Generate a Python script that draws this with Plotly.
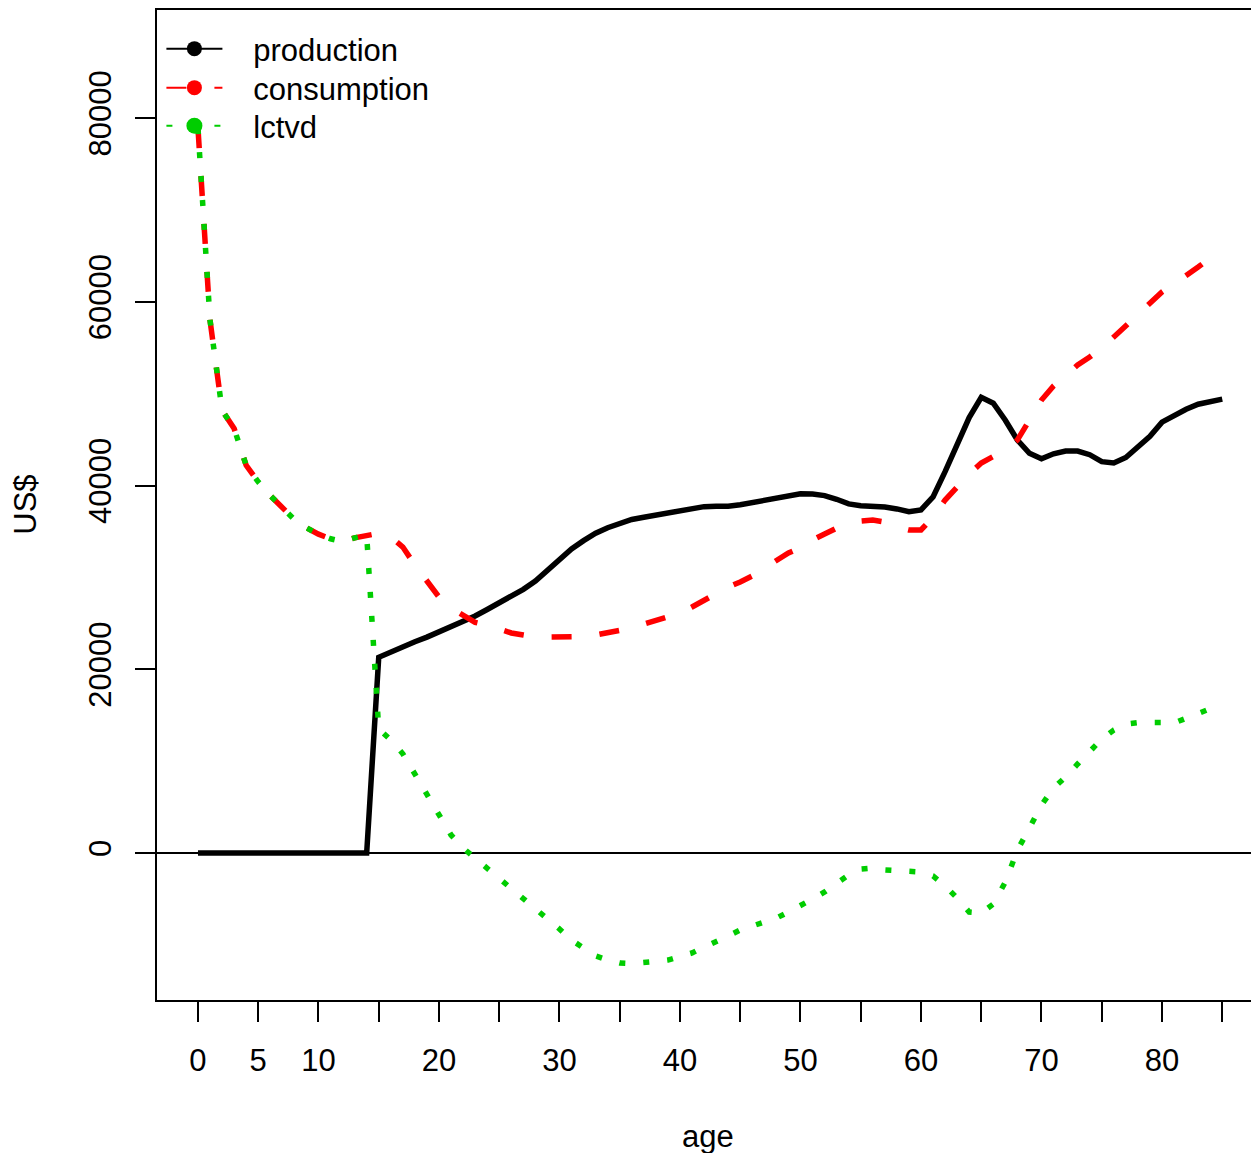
"""
plot.py
---------------------------------------------------
Production, consumption and life-cycle deficit (lctvd) by age.
---------------------------------------------------
"""

import plotly.graph_objects as go

# ---------------------------------------------------------
# Data (US$ by single year of age)
# ---------------------------------------------------------
ages = list(range(0, 86))

production = [
    0, 0, 0, 0, 0, 0, 0, 0, 0, 0,
    0, 0, 0, 0, 0, 21300, 21900, 22500, 23000, 23500,
    24050, 24600, 25200, 25800, 26500, 27200, 27900, 28700, 29600, 30800,
    32000, 33100, 34000, 34800, 35400, 35900, 36300, 36550, 36800, 37000,
    37150, 37450, 37700, 37750, 37750, 37900, 38150, 38450, 38750, 39000,
    39100, 39070, 38900, 38500, 38000, 37800, 37750, 37650, 37450, 37150,
    37350, 38750, 41500, 44600, 47400, 49600, 48950, 47100, 44950, 43500,
    42900, 43450, 43750, 43750, 43350, 42600, 42450, 43050, 44150, 45350,
    46900, 47650, 48300, 48850, 49150, 49400,
]

consumption = [
    78900, 58000, 48200, 46200, 42200, 40400, 38900, 37500, 36300, 35400,
    34700, 34200, 33900, 34300, 34600, 34800, 34400, 33300, 31350, 29500,
    27860, 26670, 25800, 25100, 24800, 24380, 23950, 23730, 23510, 23510,
    23500, 23500, 23560, 23730, 23950, 24270, 24490, 24920, 25360, 25800,
    26120, 26780, 27540, 28190, 28950, 29500, 30150, 31020, 31780, 32650,
    33200, 34070, 34720, 35370, 35810, 36130, 36240, 36030, 35480, 35160,
    35160, 36570, 38420, 39840, 41250, 42450, 43210, 43860, 44950, 47130,
    49300, 50830, 52030, 53120, 53990, 54970, 56160, 57360, 58560, 59860,
    61060, 61930, 62800, 63780, 64760, 65740,
]

lctvd = [
    78900, 58000, 48200, 46200, 42200, 40400, 38900, 37500, 36300, 35400,
    34700, 34200, 33900, 34300, 34600, 13500, 12300, 10800, 8600, 6200,
    4000, 1960, 540, -540, -1630, -2720, -3900, -5000, -5990, -7080,
    -8270, -9470, -10340, -11210, -11650, -11970, -12030, -11970, -11810, -11650,
    -11320, -10880, -10230, -9690, -9030, -8380, -7950, -7510, -7080, -6420,
    -5770, -5010, -4240, -3370, -2390, -1740, -1630, -1850, -1960, -1960,
    -2070, -2500, -3590, -4900, -6420, -6530, -5550, -3160, 300, 2720,
    5220, 7070, 8270, 9690, 11000, 12400, 13390, 14040, 14200, 14260,
    14200, 14150, 14690, 15130, 15670, 16220,
]

x_tickvals = list(range(0, 90, 5))
x_ticktext = ["0", "5", "10", "", "20", "", "30", "", "40", "", "50", "", "60", "", "70", "", "80", ""]
y_tickvals = [0, 20000, 40000, 60000, 80000]
y_ticktext = ["0", "20000", "40000", "60000", "80000"]

series_names = ["production", "consumption", "lctvd"]
series_colors = ["#000000", "#FF0000", "#00CD00"]

# ---------------------------------------------------------
# Build the figure
# ---------------------------------------------------------
fig = go.Figure()

line_styles = [
    dict(color=series_colors[0], width=5.5),
    dict(color=series_colors[1], width=5.5, dash="20px,28px"),
    dict(color=series_colors[2], width=5.5, dash="6px,18px"),
]

for name, values, style in zip(series_names, [production, consumption, lctvd], line_styles):
    fig.add_trace(go.Scatter(x=ages, y=values, mode="lines", name=name,
                             line=style, showlegend=False,
                             hovertemplate="age %{x}<br>%{y:,.0f}<extra>" + name + "</extra>"))

# legend-only entries (line + filled dot, like R's legend with pch=19),
# one legend per row so the row spacing can follow the original
legend_ids = ["legend", "legend2", "legend3"]
legend_rows_y = [0.9606, 0.9212, 0.8828]
marker_sizes = [15, 15, 17]
nbsp = "\u00a0"
for name, style, size, lid in zip(series_names, line_styles, marker_sizes, legend_ids):
    fig.add_trace(go.Scatter(x=[None], y=[None], mode="lines+markers", name=nbsp * 3 + name,
                             legend=lid,
                             line=dict(color=style["color"], width=2, dash=style.get("dash", "solid")),
                             marker=dict(color=style["color"], size=size)))

legend_style = dict(x=0.004, xanchor="left", yanchor="middle",
                    bgcolor="rgba(0,0,0,0)", borderwidth=0, itemwidth=56,
                    font=dict(size=31))

fig.update_layout(
    width=1251, height=1145,
    margin=dict(l=149, r=0, t=2, b=153),
    paper_bgcolor="white", plot_bgcolor="white",
    font=dict(family="Liberation Sans, Arial, sans-serif", size=31, color="black"),
    showlegend=True,
    legend=dict(y=legend_rows_y[0], **legend_style),
    legend2=dict(y=legend_rows_y[1], **legend_style),
    legend3=dict(y=legend_rows_y[2], **legend_style),
    annotations=[
        dict(text="age", x=0.5, y=-0.138, xref="paper", yref="paper",
             showarrow=False, xanchor="center", yanchor="middle", font=dict(size=31)),
        dict(text="US$", x=-0.120, y=0.5, xref="paper", yref="paper", textangle=-90,
             showarrow=False, xanchor="center", yanchor="middle", font=dict(size=31)),
    ],
)

fig.update_xaxes(
    range=[-3.4, 88.05], tickmode="array", tickvals=x_tickvals, ticktext=x_ticktext,
    showgrid=False, zeroline=False, showline=True, mirror=True,
    linecolor="black", linewidth=2, ticks="outside", ticklen=20, tickwidth=2,
    tickcolor="black", ticklabelstandoff=12,
)
fig.update_yaxes(
    range=[-16000, 91755], tickmode="array", tickvals=y_tickvals, ticktext=y_ticktext,
    tickangle=-90, showgrid=False, zeroline=True, zerolinecolor="black", zerolinewidth=2,
    showline=True, mirror=False, linecolor="black", linewidth=2,
    ticks="outside", ticklen=20, tickwidth=2, tickcolor="black", ticklabelstandoff=12,
)

fig.write_html("out.html")
